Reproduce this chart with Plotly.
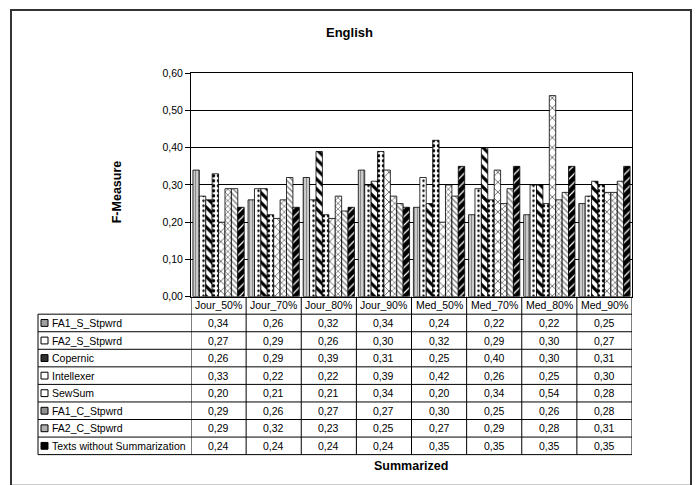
import plotly.graph_objects as go

W, H = 697, 485

categories = ["Jour_50%", "Jour_70%", "Jour_80%", "Jour_90%",
              "Med_50%", "Med_70%", "Med_80%", "Med_90%"]

series_names = ["FA1_S_Stpwrd", "FA2_S_Stpwrd", "Copernic", "Intellexer",
                "SewSum", "FA1_C_Stpwrd", "FA2_C_Stpwrd",
                "Texts without Summarization"]

fa1_s = [0.34, 0.26, 0.32, 0.34, 0.24, 0.22, 0.22, 0.25]
fa2_s = [0.27, 0.29, 0.26, 0.30, 0.32, 0.29, 0.30, 0.27]
copernic = [0.26, 0.29, 0.39, 0.31, 0.25, 0.40, 0.30, 0.31]
intellexer = [0.33, 0.22, 0.22, 0.39, 0.42, 0.26, 0.25, 0.30]
sewsum = [0.20, 0.21, 0.21, 0.34, 0.20, 0.34, 0.54, 0.28]
fa1_c = [0.29, 0.26, 0.27, 0.27, 0.30, 0.25, 0.26, 0.28]
fa2_c = [0.29, 0.32, 0.23, 0.25, 0.27, 0.29, 0.28, 0.31]
no_summ = [0.24, 0.24, 0.24, 0.24, 0.35, 0.35, 0.35, 0.35]

series_values = [fa1_s, fa2_s, copernic, intellexer, sewsum, fa1_c, fa2_c, no_summ]

# fill pattern per series: (shape, fg, bg, size, solidity)
patterns = [
    ("|", "#8a8a8a", "#e0e0e0", 3, 0.5),
    (".", "#000000", "#ffffff", 5, 0.18),
    ("\\", "#000000", "#ffffff", 7, 0.45),
    (".", "#000000", "#ffffff", 5, 0.35),
    ("x", "#000000", "#ffffff", 7, 0.15),
    ("x", "#707070", "#ffffff", 4, 0.35),
    ("\\", "#808080", "#ffffff", 4, 0.35),
    ("/", "#ffffff", "#000000", 6, 0.2),
]
# small key squares for the table legend column
key_fill = ["#a0a0a0", "#ffffff", "#303030", "#ffffff",
            "#ffffff", "#909090", "#b0b0b0", "#000000"]

FONT = "Arial, Liberation Sans, sans-serif"
TXT = 10.5


def px(x):
    return x / W


def py(y):
    return 1 - y / H


# plot-area geometry (pixels)
PL, PR, PT, PB = 191, 632, 69, 298
ROW_H = 18
HEADER_BOTTOM = PB + ROW_H
TABLE_LEFT = 38

fig = go.Figure()
for name, vals, (shape, fg, bg, size, sol) in zip(series_names, series_values, patterns):
    fig.add_trace(go.Bar(
        x=categories, y=vals, name=name,
        marker=dict(color=bg, line=dict(color="#000000", width=0.8),
                    pattern=dict(shape=shape, fgcolor=fg, bgcolor=bg,
                                 size=size, solidity=sol, fillmode="replace")),
    ))

shapes = []
annotations = []


def label(x, y, text, xref="paper", size=TXT, xanchor="center", angle=0):
    annotations.append(dict(x=x, y=y, xref=xref, yref="paper", text=text,
                            showarrow=False, xanchor=xanchor, yanchor="middle",
                            textangle=angle,
                            font=dict(family=FONT, size=size, color="#000000")))


# outer chart frame
shapes.append(dict(type="rect", xref="paper", yref="paper",
                   x0=px(11), x1=px(691), y0=py(492), y1=py(4),
                   line=dict(color="#333333", width=2)))

# data table: horizontal rules
n_rows = len(series_names)
for k in range(n_rows + 1):
    y = HEADER_BOTTOM + k * ROW_H
    shapes.append(dict(type="line", xref="paper", yref="paper",
                       x0=px(TABLE_LEFT), x1=px(PR), y0=py(y), y1=py(y),
                       line=dict(color="#000000", width=1)))
table_bottom = HEADER_BOTTOM + n_rows * ROW_H
# left edge of label column
shapes.append(dict(type="line", xref="paper", yref="paper",
                   x0=px(TABLE_LEFT), x1=px(TABLE_LEFT),
                   y0=py(HEADER_BOTTOM), y1=py(table_bottom),
                   line=dict(color="#000000", width=1)))
# column separators aligned with the category slots
for i in range(len(categories) + 1):
    shapes.append(dict(type="line", xref="x", yref="paper",
                       x0=i - 0.5, x1=i - 0.5, y0=py(PB), y1=py(table_bottom),
                       line=dict(color="#000000", width=1)))

# header row: category names
for i, c in enumerate(categories):
    label(i, py(PB + ROW_H / 2), c, xref="x")

# body rows: legend key, series name, values
for k, (name, vals) in enumerate(zip(series_names, series_values)):
    yc = HEADER_BOTTOM + k * ROW_H + ROW_H / 2
    shapes.append(dict(type="rect", xref="paper", yref="paper",
                       x0=px(41), x1=px(48), y0=py(yc + 3.5), y1=py(yc - 3.5),
                       fillcolor=key_fill[k], line=dict(color="#000000", width=1)))
    label(px(50), py(yc), name, xanchor="left")
    for i, v in enumerate(vals):
        label(i, py(yc), f"{v:.2f}".replace(".", ","), xref="x")

# titles
label(px(349), py(27), "<b>English</b>", size=13)
label(px((PL + PR) / 2), py(472), "<b>Summarized</b>", size=12.5)
label(px(117), py(191), "<b>F-Measure</b>", size=12.5, angle=-90)

fig.update_layout(
    width=W, height=H,
    margin=dict(l=0, r=0, t=0, b=0),
    paper_bgcolor="#ffffff", plot_bgcolor="#ffffff",
    separators=", ",
    barmode="group", bargap=0.07, bargroupgap=0.0,
    showlegend=False,
    font=dict(family=FONT, size=TXT, color="#000000"),
    xaxis=dict(domain=[px(PL), px(PR)], range=[-0.5, 7.5],
               showticklabels=False, ticks="", showgrid=False,
               showline=True, linecolor="#000000", linewidth=1, mirror=True,
               zeroline=False),
    yaxis=dict(domain=[py(PB), py(PT)], range=[0, 0.6], dtick=0.1,
               tickformat=".2f", ticks="outside", ticklen=5, tickcolor="#000000",
               showgrid=True, gridcolor="#000000", gridwidth=0.6,
               showline=True, linecolor="#000000", linewidth=1, mirror=True,
               zeroline=False, tickfont=dict(family=FONT, size=TXT, color="#000000")),
    shapes=shapes,
    annotations=annotations,
)

fig.write_html("out.html")
